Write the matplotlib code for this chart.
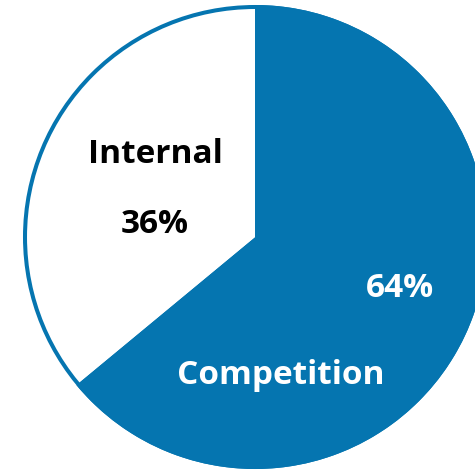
import matplotlib
matplotlib.use("Agg")
import matplotlib.pyplot as plt
from matplotlib.patches import Circle

# Share of work by source
categories = ["Competition", "Internal"]
shares = [64, 36]

BLUE = "#0575b0"
W, H = 475, 470

fig = plt.figure(figsize=(W / 100, H / 100), dpi=100)
ax = fig.add_axes([0, 0, 1, 1])

cx, cy, r = 255, H - 237, 232
ax.pie(shares, colors=[BLUE, "white"], startangle=90, counterclock=False,
       center=(cx, cy), radius=r, wedgeprops=dict(linewidth=0),
       frame=True)
ax.set_xlim(0, W)
ax.set_ylim(0, H)
ax.set_aspect("equal")
ax.axis("off")

# outline of the whole disc
ax.add_patch(Circle((cx, cy), r - 2, fill=False, edgecolor=BLUE, linewidth=2.9))

font = dict(family=["Open Sans", "DejaVu Sans"], fontweight="bold", fontsize=24)
ax.text(155, H - 163, categories[1], color="black", ha="center", va="baseline", **font)
ax.text(155, H - 233, f"{shares[1]}%", color="black", ha="center", va="baseline", **font)
ax.text(400, H - 297, f"{shares[0]}%", color="white", ha="center", va="baseline", **font)
ax.text(281, H - 384, categories[0], color="white", ha="center", va="baseline", **font)

fig.savefig("out.png", dpi=100)
